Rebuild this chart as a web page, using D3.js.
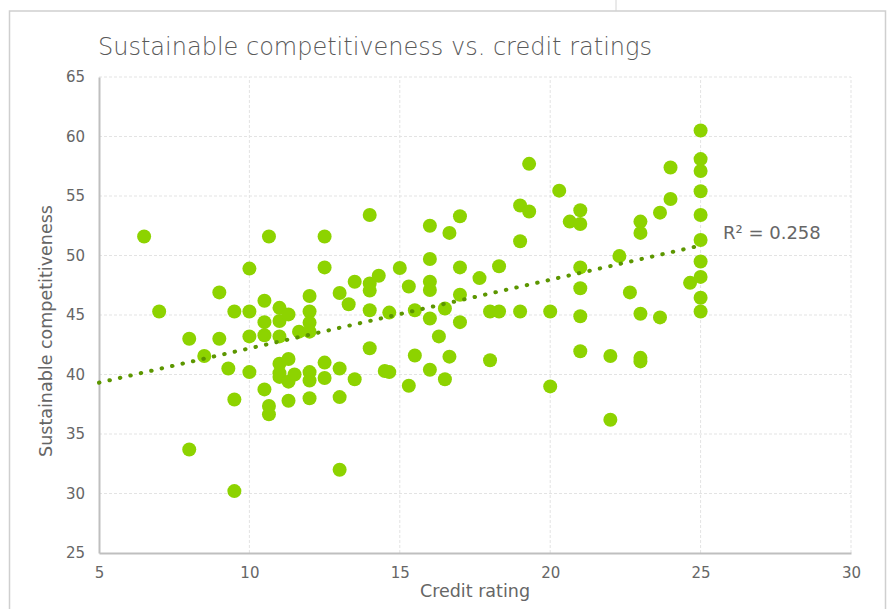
<!DOCTYPE html>
<html>
<head>
<meta charset="utf-8">
<script src="https://cdn.jsdelivr.net/npm/d3@7/dist/d3.min.js"></script>
<style>
  body { margin: 0; background: #fff; }
  svg { display: block; font-family: "DejaVu Sans", sans-serif; }
</style>
</head>
<body>
<div id="container"></div>
<script>
var w = 894;
var h = 609;

// credit rating (x) and sustainable competitiveness (y)
var creditRating = [
  6.5, 7.0, 8.0, 8.0, 8.5, 9.0, 9.0, 9.3, 9.5, 9.5, 9.5,
  10.0, 10.0, 10.0, 10.0, 10.5, 10.5, 10.5, 10.5, 10.65, 10.65, 10.65,
  11.0, 11.0, 11.0, 11.0, 11.0, 11.0, 11.3, 11.3, 11.3, 11.3, 11.5, 11.65,
  12.0, 12.0, 12.0, 12.0, 12.0, 12.0, 12.0, 12.5, 12.5, 12.5, 12.5,
  13.0, 13.0, 13.0, 13.0, 13.3, 13.5, 13.5,
  14.0, 14.0, 14.0, 14.0, 14.0, 14.3, 14.5, 14.65, 14.65,
  15.0, 15.3, 15.3, 15.5, 15.5,
  16.0, 16.0, 16.0, 16.0, 16.0, 16.0, 16.3, 16.5, 16.5, 16.65, 16.65,
  17.0, 17.0, 17.0, 17.0, 17.65, 18.0, 18.0, 18.3, 18.3,
  19.0, 19.0, 19.0, 19.3, 19.3, 20.0, 20.0, 20.3, 20.65,
  21.0, 21.0, 21.0, 21.0, 21.0, 21.0, 22.0, 22.0, 22.3, 22.65,
  23.0, 23.0, 23.0, 23.0, 23.0, 23.65, 23.65, 24.0, 24.0, 24.65,
  25, 25, 25, 25, 25, 25, 25, 25, 25, 25
];
var competitiveness = [
  51.6, 45.3, 43.0, 33.7, 41.55, 46.9, 43.0, 40.5, 45.3, 37.9, 30.2,
  48.9, 45.3, 43.2, 40.2, 46.2, 44.4, 43.3, 38.75, 51.6, 37.35, 36.65,
  45.6, 44.5, 43.2, 40.9, 40.1, 39.8, 45.05, 41.3, 39.4, 37.8, 40.0, 43.6,
  46.6, 45.3, 44.35, 43.6, 40.2, 39.5, 38.0, 51.6, 49.0, 41.0, 39.7,
  46.85, 40.5, 38.1, 32.0, 45.9, 47.8, 39.6,
  53.4, 47.65, 47.05, 45.4, 42.2, 48.3, 40.3, 45.2, 40.2,
  48.95, 47.4, 39.05, 45.4, 41.6,
  52.5, 49.7, 47.8, 47.1, 44.7, 40.4, 43.2, 45.55, 39.6, 51.9, 41.5,
  53.3, 49.0, 46.7, 44.4, 48.1, 45.3, 41.2, 49.1, 45.3,
  54.2, 51.2, 45.3, 57.7, 53.7, 45.3, 39.0, 55.45, 52.85,
  53.8, 52.65, 49.0, 47.25, 44.9, 41.95, 41.55, 36.2, 49.95, 46.9,
  52.85, 51.9, 45.1, 41.4, 41.1, 53.6, 44.8, 57.4, 54.75, 47.7,
  60.5, 58.1, 57.1, 55.4, 53.4, 51.3, 49.5, 48.2, 46.45, 45.3
];

var xTicks = [5, 10, 15, 20, 25, 30];
var yTicks = [25, 30, 35, 40, 45, 50, 55, 60, 65];
var titleText = "Sustainable competitiveness vs. credit ratings";
var xTitle = "Credit rating";
var yTitle = "Sustainable competitiveness";
var r2Text = "R\u00B2 = 0.258";

var data = creditRating.map(function(x, i) { return { x: x, y: competitiveness[i] }; });

var margin = { left: 99, right: 42, top: 77, bottom: 56 };

var svg = d3.select("div#container")
    .append("svg")
    .attr("width", w)
    .attr("height", h);

// spreadsheet frame
svg.append("line")
    .attr("x1", 616).attr("x2", 616).attr("y1", 0).attr("y2", 11)
    .attr("stroke", "#d4d4d4").attr("stroke-width", 1);
svg.append("rect")
    .attr("x", 9.5).attr("y", 11)
    .attr("width", 876).attr("height", 620)
    .attr("fill", "#fff")
    .attr("stroke", "#cfcfcf")
    .attr("stroke-width", 1.5);

var x = d3.scaleLinear().domain([5, 30]).range([margin.left, w - margin.right - 1]);
var y = d3.scaleLinear().domain([25, 65]).range([h - margin.bottom, margin.top]);

// gridlines
svg.append("g")
    .selectAll("line")
    .data(yTicks.slice(1))
    .enter()
    .append("line")
    .attr("x1", x(5)).attr("x2", x(30))
    .attr("y1", d => y(d)).attr("y2", d => y(d))
    .attr("stroke", "#e3e3e3")
    .attr("stroke-dasharray", "3,2");

svg.append("g")
    .selectAll("line")
    .data(xTicks.slice(1))
    .enter()
    .append("line")
    .attr("y1", y(25)).attr("y2", y(65))
    .attr("x1", d => x(d)).attr("x2", d => x(d))
    .attr("stroke", "#e3e3e3")
    .attr("stroke-dasharray", "3,2");

// axes
var xAxis = svg.append("g")
    .attr("transform", "translate(0," + y(25) + ")")
    .call(d3.axisBottom(x).tickValues(xTicks).tickSize(0).tickPadding(14));
var yAxis = svg.append("g")
    .attr("transform", "translate(" + x(5) + ",0)")
    .call(d3.axisLeft(y).tickValues(yTicks).tickSize(0).tickPadding(14));

[xAxis, yAxis].forEach(function(g) {
  g.attr("font-size", 15).attr("font-family", "'DejaVu Sans', sans-serif");
  g.select(".domain").attr("stroke", "#bfbfbf").attr("stroke-width", 2);
  g.selectAll("text").attr("fill", "#666");
});

// points
svg.append("g")
    .selectAll("circle")
    .data(data)
    .enter()
    .append("circle")
    .attr("cx", d => x(d.x))
    .attr("cy", d => y(d.y))
    .attr("r", 7)
    .attr("fill", "#8dd300");

// linear trendline (least squares)
var mx = d3.mean(data, d => d.x);
var my = d3.mean(data, d => d.y);
var sxy = d3.sum(data, d => (d.x - mx) * (d.y - my));
var sxx = d3.sum(data, d => (d.x - mx) * (d.x - mx));
var slope = sxy / sxx;
var icpt = my - slope * mx;
var trendX = [5, 25];

svg.append("path")
    .datum(trendX)
    .attr("d", d3.line().x(d => x(d)).y(d => y(icpt + slope * d)))
    .attr("fill", "none")
    .attr("stroke", "#5c9600")
    .attr("stroke-width", 4)
    .attr("stroke-linecap", "round")
    .attr("stroke-dasharray", "0.5,10.2");

svg.append("text")
    .attr("x", 723)
    .attr("y", 239)
    .attr("fill", "#666")
    .style("font-size", "18px")
    .text(r2Text);

// titles
svg.append("text")
    .attr("x", 98)
    .attr("y", 55)
    .attr("fill", "#595959")
    .style("font-size", "24px")
    .style("font-weight", 200)
    .text(titleText);

svg.append("text")
    .attr("x", x(17.5))
    .attr("y", 597)
    .attr("text-anchor", "middle")
    .attr("fill", "#666")
    .style("font-size", "17.5px")
    .text(xTitle);

svg.append("text")
    .attr("transform", "translate(52,331) rotate(-90)")
    .attr("text-anchor", "middle")
    .attr("fill", "#666")
    .style("font-size", "17.5px")
    .text(yTitle);
</script>
</body>
</html>
